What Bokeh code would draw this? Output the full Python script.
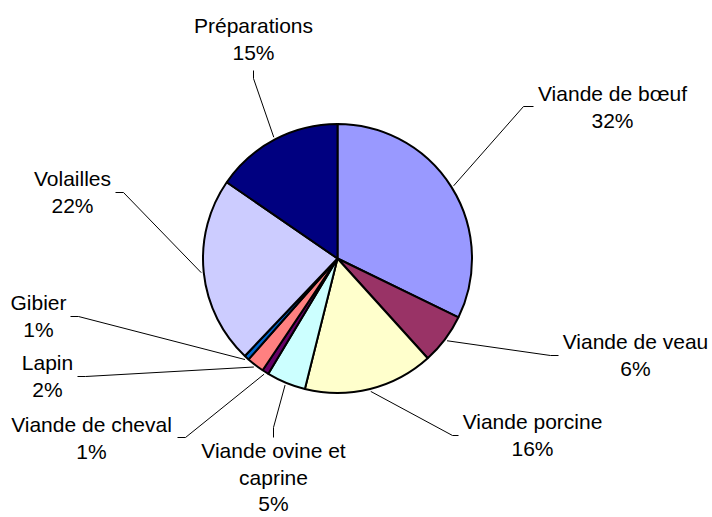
import math
from bokeh.plotting import figure
from bokeh.models import Range1d, ColumnDataSource
from bokeh.core.properties import value
from bokeh.embed import file_html
from bokeh.resources import INLINE

# ---- data ----
categories = ["Viande de bœuf", "Viande de veau", "Viande porcine",
              "Viande ovine et\ncaprine", "Viande de cheval", "Lapin",
              "Gibier", "Volailles", "Préparations"]
shares = [32.2, 6.1, 15.6, 4.7, 0.8, 2.1, 0.6, 22.5, 15.4]
pct_labels = ["32%", "6%", "16%", "5%", "1%", "2%", "1%", "22%", "15%"]

# ---- styles ----
colors = ["#9999FF", "#993366", "#FFFFCC", "#CCFFFF", "#660066",
          "#FF8080", "#0066CC", "#CCCCFF", "#000080"]

# ---- layout (picture pixel coordinates) ----
W, H = 712, 517
PAGE_H = 517


def Y(iy):
    return PAGE_H - iy


CX, CY, R = 337, Y(258), 134.5
R_LEAD = 137
LINE_GAP = 26.5
FONT = "Liberation Sans"
FSIZE = "21px"

# text centre x, first line y, elbow point, end point of leader
label_layout = [
    (612, 93, (523, 106), (533, 106)),
    (635, 341, (550, 355), (558, 355)),
    (532, 421, (452, 435), (458, 435)),
    (273, 450, (273, 427), (273, 437)),
    (91, 424, (185, 437), (177, 437)),
    (47, 362, (85, 376), (77, 376)),
    (38, 302, (78, 316), (70, 316)),
    (72, 178, (123, 192), (115, 192)),
    (253, 25, (253, 78), (253, 70)),
]

total = sum(shares)
starts, ends, mids = [], [], []
cum = 0.0
for v in shares:
    a0 = math.pi / 2 - 2 * math.pi * cum / total
    cum += v
    a1 = math.pi / 2 - 2 * math.pi * cum / total
    starts.append(a0)
    ends.append(a1)
    mids.append((a0 + a1) / 2)

p = figure(width=W, height=H, output_backend="svg", toolbar_location=None,
           x_range=Range1d(0, W), y_range=Range1d(PAGE_H - H, PAGE_H),
           min_border=0, outline_line_color=None)
p.axis.visible = False
p.grid.visible = False
p.background_fill_color = "white"
p.border_fill_color = "white"

# leader lines
xs, ys = [], []
for m, (tx, ty, elbow, end) in zip(mids, label_layout):
    sx = CX + R_LEAD * math.cos(m)
    sy = CY + R_LEAD * math.sin(m)
    xs.append([sx, elbow[0], end[0]])
    ys.append([sy, Y(elbow[1]), Y(end[1])])
p.multi_line(xs=xs, ys=ys, line_color="black", line_width=1)

# pie
src = ColumnDataSource(dict(start=starts, end=ends, color=colors))
p.wedge(x=CX, y=CY, radius=R, start_angle="start", end_angle="end",
        direction="clock", fill_color="color", line_color="black",
        line_width=2, source=src)

# labels
lx, ly, lt = [], [], []
for cat, pct, (tx, ty, elbow, end) in zip(categories, pct_labels, label_layout):
    lines = cat.split("\n") + [pct]
    for i, t in enumerate(lines):
        lx.append(tx)
        ly.append(Y(ty + i * LINE_GAP))
        lt.append(t)
p.text(x=lx, y=ly, text=lt, text_align="center", text_baseline="middle",
       text_font=value(FONT), text_font_size=value(FSIZE), text_color="black")

open("out.html", "w").write(file_html(p, INLINE))
